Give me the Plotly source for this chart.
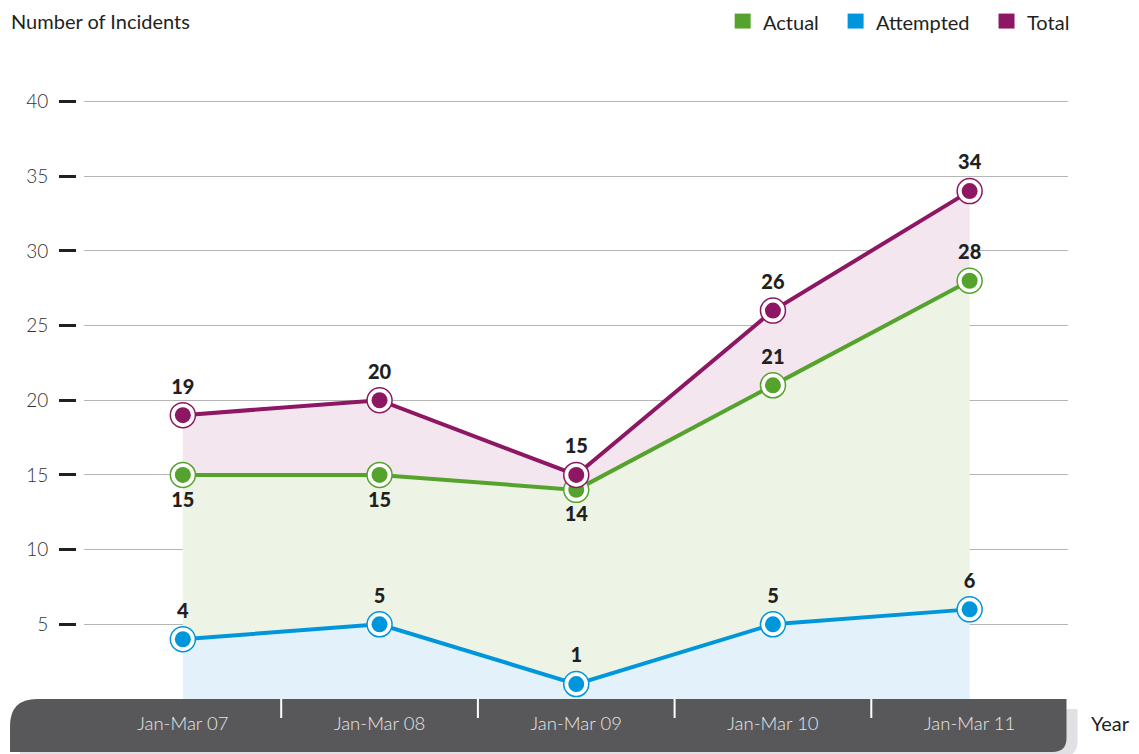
import plotly.graph_objects as go

categories = ["Jan-Mar 07", "Jan-Mar 08", "Jan-Mar 09", "Jan-Mar 10", "Jan-Mar 11"]
actual = [15, 15, 14, 21, 28]
attempted = [4, 5, 1, 5, 6]
total = [19, 20, 15, 26, 34]
y_ticks = [5, 10, 15, 20, 25, 30, 35, 40]

C_TOTAL = "#8e1763"
C_ACTUAL = "#55a32c"
C_ATT = "#0096db"
F_TOTAL = "#f4e6ef"
F_ACTUAL = "#edf4e6"
F_ATT = "#e3f2fa"
DARK = "#231f20"
FONT = "Lato"

# page has an 8px body margin; design in reference-pixel coordinates
OFF = 8
W, H = 1139 - OFF, 754 - OFF
PLOT_X0, PLOT_X1 = 84.5, 1068.5   # reference pixels
PLOT_Y0, PLOT_Y1 = 99.5, 699
AXIS_X = 76                         # y-axis line position (ref px)
L = AXIS_X - OFF
R = W - (PLOT_X1 - OFF)
T = PLOT_Y0 - OFF
B = H - (PLOT_Y1 - OFF)
PW = W - L - R
PH = H - T - B


def px(x):
    return (x - OFF - L) / PW


def py(y):
    return (H - B - (y - OFF)) / PH


fig = go.Figure()

# area + line traces (order matters for tonexty)
fig.add_trace(go.Scatter(x=categories, y=attempted, mode="lines", fill="tozeroy",
                         fillcolor=F_ATT, line=dict(color=C_ATT, width=4),
                         showlegend=False, hoverinfo="skip"))
fig.add_trace(go.Scatter(x=categories, y=actual, mode="lines", fill="tonexty",
                         fillcolor=F_ACTUAL, line=dict(color=C_ACTUAL, width=4),
                         showlegend=False, hoverinfo="skip"))
fig.add_trace(go.Scatter(x=categories, y=total, mode="lines", fill="tonexty",
                         fillcolor=F_TOTAL, line=dict(color=C_TOTAL, width=4),
                         showlegend=False, hoverinfo="skip"))

series = [
    (attempted, C_ATT, ["top center"] * 5),
    (actual, C_ACTUAL, ["bottom center"] * 3 + ["top center"] * 2),
    (total, C_TOTAL, ["top center"] * 5),
]
for vals, col, pos in series:
    fig.add_trace(go.Scatter(
        x=categories, y=vals, mode="markers+text",
        marker=dict(size=25, color="white", line=dict(color=col, width=1.5)),
        text=[str(v) for v in vals], textposition=pos,
        textfont=dict(family=FONT, size=20, color=DARK, weight=900),
        showlegend=False, hoverinfo="skip", cliponaxis=False))
    fig.add_trace(go.Scatter(
        x=categories, y=vals, mode="markers",
        marker=dict(size=16, color=col, line=dict(width=0)),
        showlegend=False, hoverinfo="skip", cliponaxis=False))

shapes = []
# shadow of the axis bar
sx0, sx1, sy0, sy1, sr = 20, 1078, 709, 756, 14
shapes.append(dict(
    type="path", xref="paper", yref="paper", layer="below",
    path=(f"M {px(sx0)} {py(sy0)} L {px(sx1)} {py(sy0)} L {px(sx1)} {py(sy1 - sr)} "
          f"Q {px(sx1)} {py(sy1)} {px(sx1 - sr)} {py(sy1)} L {px(sx0)} {py(sy1)} Z"),
    fillcolor="#e1e0e5", line=dict(width=0)))
# dark axis bar
bx0, bx1, by0, by1, r1, r2 = 10, 1067, 699, 752, 27, 14
shapes.append(dict(
    type="path", xref="paper", yref="paper", layer="below",
    path=(f"M {px(bx0)} {py(by0 + r1)} Q {px(bx0)} {py(by0)} {px(bx0 + r1)} {py(by0)} "
          f"L {px(bx1)} {py(by0)} L {px(bx1)} {py(by1 - r2)} "
          f"Q {px(bx1)} {py(by1)} {px(bx1 - r2)} {py(by1)} L {px(bx0)} {py(by1)} Z"),
    fillcolor="#58585a", line=dict(width=0)))
# white separators between categories
x_start = px(PLOT_X0)
n = len(categories)
for i in range(1, n):
    xp = x_start + (1 - x_start) * i / n
    shapes.append(dict(type="line", xref="paper", yref="paper", layer="below",
                       x0=xp, x1=xp, y0=py(699), y1=py(718),
                       line=dict(color="white", width=2)))
# legend squares
leg = [("Actual", C_ACTUAL, 735, 762), ("Attempted", C_ATT, 848, 875), ("Total", C_TOTAL, 999, 1026)]
annotations = []
for name, col, sq, tx in leg:
    shapes.append(dict(type="rect", xref="paper", yref="paper",
                       x0=px(sq), x1=px(sq + 16), y0=py(13), y1=py(28),
                       fillcolor=col, line=dict(width=0)))
    annotations.append(dict(xref="paper", yref="paper", x=px(tx - 1), y=py(21),
                            xanchor="left", yanchor="middle", text=name, showarrow=False,
                            font=dict(family=FONT, size=20, color=DARK)))

annotations.append(dict(xref="paper", yref="paper", x=px(9), y=py(20),
                        xanchor="left", yanchor="middle", text="Number of Incidents",
                        showarrow=False, font=dict(family=FONT, size=20, color=DARK)))
annotations.append(dict(xref="paper", yref="paper", x=px(1090), y=py(723),
                        xanchor="left", yanchor="middle", text="Year",
                        showarrow=False, font=dict(family=FONT, size=20, color=DARK)))

fig.update_layout(
    width=W, height=H,
    margin=dict(l=L, r=R, t=T, b=B, pad=0),
    paper_bgcolor="white", plot_bgcolor="rgba(0,0,0,0)",
    showlegend=False,
    shapes=shapes, annotations=annotations,
    xaxis=dict(domain=[x_start, 1], type="category", range=[-0.5, 4.5],
               showgrid=False, zeroline=False, showline=False, ticks="",
               tickfont=dict(family=FONT, size=18.5, color="#e6e6e6", weight=300),
               ticklabelstandoff=11),
    yaxis=dict(anchor="free", position=0, range=[0, 40.1], tickvals=y_ticks,
               showgrid=True, gridcolor="#b5b5b5", gridwidth=1, zeroline=False,
               showline=False, ticks="outside", ticklen=17, tickwidth=2.5,
               tickcolor=DARK, ticklabelstandoff=7,
               tickfont=dict(family=FONT, size=19, color="#333333", weight=300)),
)

fig.write_html("out.html")
